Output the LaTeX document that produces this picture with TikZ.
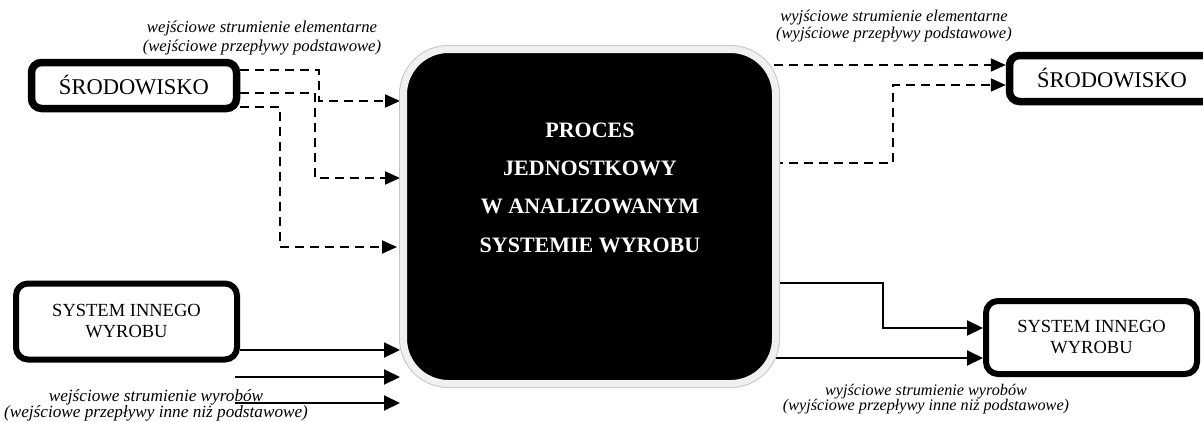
\documentclass[tikz,border=0pt]{standalone}
\usepackage{fontspec}
\setmainfont{Liberation Serif}
\usetikzlibrary{arrows.meta,backgrounds}
\newcommand\tightlines{\lineskiplimit=-8pt\relax}
\begin{document}
\begin{tikzpicture}[x=1pt,y=-1pt,
  procbox/.style={rectangle, draw=gray!12, fill=black, line width=7pt,
    rounded corners=45pt, minimum width=372pt, minimum height=334pt,
    preaction={draw=gray!45, line width=9pt}},
  proctext/.style={align=center, text=white, inner sep=0pt,
    font=\bfseries\fontsize{22}{38.4}\selectfont},
  envbox/.style={rectangle, draw=black, line width=7.5pt, rounded corners=10pt,
    fill=white, minimum width=205pt, minimum height=46pt, inner sep=0pt,
    font=\fontsize{22.5}{24}\selectfont},
  sysbox/.style={rectangle, draw=black, line width=6pt, rounded corners=12pt,
    fill=white, inner sep=0pt, align=center,
    font=\fontsize{18.5}{21}\selectfont},
  flowlabel/.style={align=center, inner sep=0pt},
  dflow/.style={line width=2pt, dash pattern=on 9pt off 6pt,
    -{Triangle[length=15pt,width=13pt]}},
  sflow/.style={line width=2pt, -{Triangle[length=16pt,width=15pt]}},
]
\useasboundingbox (0,0) rectangle (1203,421);

% central unit process
\node[procbox] (proc) at (589.5,216.5) {};
\node[proctext] (proctitle) at (590,187.5)
  {PROCES\\JEDNOSTKOWY\\W ANALIZOWANYM\\SYSTEMIE WYROBU};

% surrounding systems
\node[envbox] (envL) at (134,85.5) {ŚRODOWISKO};
\node[envbox] (envR) at (1112,78.5) {ŚRODOWISKO};
\node[sysbox, minimum width=221pt, minimum height=76pt] (sysL) at (126.5,321.5)
  {SYSTEM INNEGO\\WYROBU};
\node[sysbox, minimum width=211pt, minimum height=73pt] (sysR) at (1091.5,337.5)
  {SYSTEM INNEGO\\WYROBU};

% free ends of the extra product inputs
\coordinate (in2) at (235,377);
\coordinate (in3) at (235,403);

\begin{scope}[on background layer]
  % elementary inputs
  \draw[dflow] (envL.east |- 0,70) -| (319,101) -- (proc.west |- 0,101);
  \draw[dflow] (envL.east |- 0,93) -| (315,178) -- (proc.west |- 0,178);
  \draw[dflow] (envL.east |- 0,107) -| (280,247) -- ([xshift=-3pt]proc.west |- 0,247);
  % elementary outputs
  \draw[dflow] ([xshift=-20pt]proc.east |- 0,65) -- (envR.west |- 0,65);
  \draw[dflow] ([xshift=-20pt]proc.east |- 0,163) -| (893,85) -- (envR.west |- 0,85);
  % product inputs
  \draw[sflow] (sysL.east |- 0,350) -- (proc.west |- 0,350);
  \draw[sflow] (in2) -- (proc.west |- in2);
  \draw[sflow] (in3) -- (proc.west |- in3);
  % product outputs
  \draw[sflow] ([xshift=-20pt]proc.east |- 0,283) -| (883,328) -- (sysR.west |- 0,328);
  \draw[sflow] ([xshift=-20pt]proc.east |- 0,358) -- (sysR.west |- 0,358);
\end{scope}

% flow labels
\node[flowlabel, font=\itshape\fontsize{16.7}{19}\selectfont] (inEl) at (262,37.5)
  {wejściowe strumienie elementarne\\(wejściowe przepływy podstawowe)};
\node[flowlabel, font=\itshape\fontsize{16.5}{16.5}\selectfont\tightlines] (outEl) at (894,26)
  {wyjściowe strumienie elementarne\\(wyjściowe przepływy podstawowe)};
\node[flowlabel, font=\itshape\fontsize{17.2}{16}\selectfont\tightlines] (inPr) at (156,405)
  {wejściowe strumienie wyrobów\\(wejściowe przepływy inne niż podstawowe)};
\node[flowlabel, font=\itshape\fontsize{16.2}{15}\selectfont\tightlines] (outPr) at (926,399)
  {wyjściowe strumienie wyrobów\\(wyjściowe przepływy inne niż podstawowe)};
\end{tikzpicture}
\end{document}
